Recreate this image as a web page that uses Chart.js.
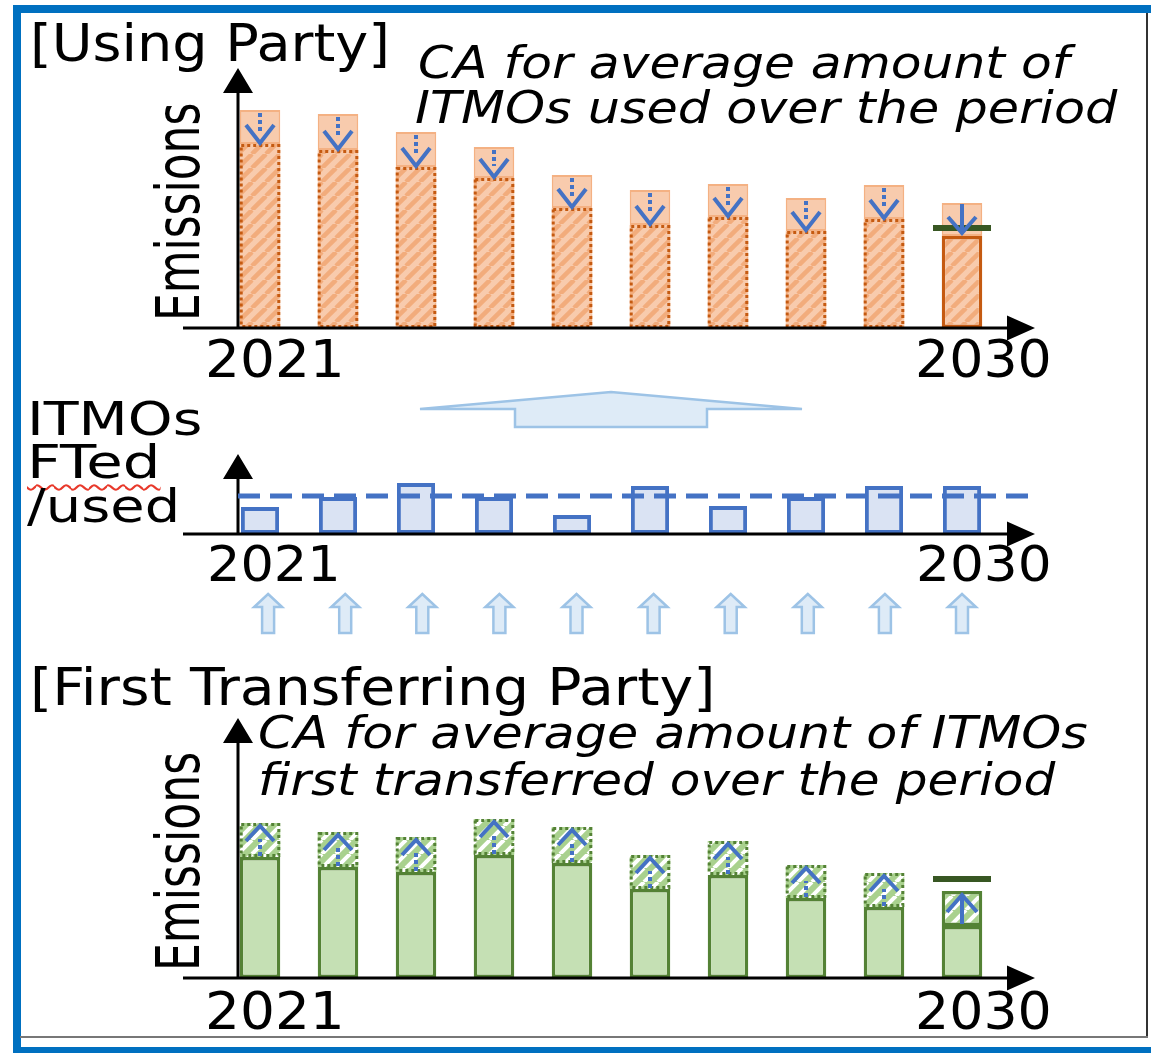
<!DOCTYPE html>
<html>
<head>
<meta charset="utf-8">
<script src="https://cdn.jsdelivr.net/npm/chart.js@4.4.0/dist/chart.umd.min.js"></script>
<style>
  body { margin: 0; background: #fff; }
  #page { position: relative; width: 1151px; height: 1053px; overflow: hidden; background: #fff; }
  canvas { position: absolute; left: 0; }
  .box { position: absolute; }
  .t { position: absolute; white-space: nowrap; line-height: 1; color: #000;
       font-family: 'DejaVu Sans', Verdana, sans-serif; transform-origin: left top; }
  .it { font-style: italic; }
  .squiggle { text-decoration: underline wavy #e8392b; text-decoration-thickness: 2px;
              text-underline-offset: 6px; }
</style>
</head>
<body>
<div id="page">
  <!-- frame -->
  <div class="box" style="left:13px;top:5px;width:1138px;height:8px;background:#0070c0"></div>
  <div class="box" style="left:13px;top:5px;width:8px;height:1048px;background:#0070c0"></div>
  <div class="box" style="left:13px;top:1047px;width:1138px;height:6px;background:#0070c0"></div>
  <div class="box" style="left:1146px;top:13px;width:2px;height:1025px;background:#333"></div>
  <div class="box" style="left:20px;top:1036px;width:1128px;height:2px;background:#777"></div>

  <canvas id="using" width="1151" height="345" style="top:0px"></canvas>
  <canvas id="itmo" width="1151" height="260" style="top:380px"></canvas>
  <canvas id="first" width="1151" height="300" style="top:700px"></canvas>

  <div class="t" style="left:30px;top:17px;font-size:52px" data-w="360">[Using Party]</div>
  <div class="t it" style="left:418px;top:41px;font-size:44px" data-w="652">CA for average amount of</div>
  <div class="t it" style="left:415px;top:86px;font-size:44px" data-w="703">ITMOs used over the period</div>
  <div class="t rot" style="left:148px;top:321px;font-size:60px" data-w="218">Emissions</div>
  <div class="t" style="left:205px;top:334px;font-size:51px" data-w="140">2021</div>
  <div class="t" style="left:915px;top:334px;font-size:51px" data-w="137">2030</div>

  <div class="t" style="left:27px;top:396px;font-size:46px" data-w="176">ITMOs</div>
  <div class="t squiggle" style="left:27px;top:439px;font-size:46px" data-w="133">FTed</div>
  <div class="t" style="left:27px;top:483px;font-size:46px" data-w="153">/used</div>
  <div class="t" style="left:207px;top:540px;font-size:49px" data-w="134">2021</div>
  <div class="t" style="left:916px;top:540px;font-size:49px" data-w="136">2030</div>

  <div class="t" style="left:30px;top:661px;font-size:52px" data-w="685">[First Transferring Party]</div>
  <div class="t it" style="left:258px;top:711px;font-size:44px" data-w="830">CA for average amount of ITMOs</div>
  <div class="t it" style="left:258px;top:758px;font-size:44px" data-w="797">first transferred over the period</div>
  <div class="t rot" style="left:148px;top:971px;font-size:60px" data-w="219">Emissions</div>
  <div class="t" style="left:205px;top:986px;font-size:51px" data-w="140">2021</div>
  <div class="t" style="left:915px;top:986px;font-size:51px" data-w="137">2030</div>
</div>

<script>
'use strict';

const years = ['2021', '2022', '2023', '2024', '2025', '2026', '2027', '2028', '2029', '2030'];

// Using Party: emissions after CA, plus the ITMOs used on top (original emissions)
const usingAfterCA = [184, 178, 161, 150, 120, 103, 111, 97, 109, 92];
const usingItmos = [34, 36, 35, 31, 33, 35, 33, 33, 34, 33];
const usingAverage = 100;

// ITMOs first transferred / used each year
const itmoAmounts = [27, 37, 51, 37, 19, 48, 28, 37, 48, 48];

// First Transferring Party: emissions, plus CA added on top
const ftEmissions = [121, 111, 106, 123, 115, 89, 103, 80, 71, 52];
const ftItmos = [34, 35, 35, 36, 36, 34, 34, 33, 34, 35];
const ftAverage = 99;

const BLUE = '#4472c4';
const LAST = years.length - 1;

function stripeTile(base, stripe, w) {
  const s = 14;
  const c = document.createElement('canvas');
  c.width = c.height = s;
  const g = c.getContext('2d');
  g.fillStyle = base;
  g.fillRect(0, 0, s, s);
  g.strokeStyle = stripe;
  g.lineWidth = w;
  for (const k of [-s, 0, s]) {
    g.beginPath();
    g.moveTo(k, s);
    g.lineTo(k + s, 0);
    g.stroke();
  }
  return c;
}
const orangeTile = stripeTile('#f8cbad', '#f2ac7c', 4.5);
const greenTile = stripeTile('#a9d18e', '#ffffff', 4);

function bar(meta, i) {
  return meta.data[i].getProps(['x', 'y', 'base', 'width'], true);
}

function dottedRect(ctx, b, color) {
  const l = b.x - b.width / 2 + 1.5, r = b.x + b.width / 2 - 1.5;
  const t = Math.min(b.y, b.base) + 1.5, bt = Math.max(b.y, b.base) - 1.5;
  ctx.save();
  ctx.setLineDash([3, 3]);
  ctx.lineWidth = 3;
  ctx.strokeStyle = color;
  ctx.strokeRect(l, t, r - l, bt - t);
  ctx.restore();
}

function stem(ctx, x, y1, y2, dotted) {
  ctx.save();
  ctx.strokeStyle = BLUE;
  ctx.lineWidth = 4;
  if (dotted) ctx.setLineDash([4, 3]);
  ctx.beginPath();
  ctx.moveTo(x, y1);
  ctx.lineTo(x, y2);
  ctx.stroke();
  ctx.restore();
}

// dir = 1 points down, -1 points up
function chevron(ctx, x, tipY, dir, half, h) {
  ctx.save();
  ctx.strokeStyle = BLUE;
  ctx.lineWidth = 4;
  ctx.beginPath();
  ctx.moveTo(x - half, tipY - dir * h);
  ctx.lineTo(x, tipY);
  ctx.lineTo(x + half, tipY - dir * h);
  ctx.stroke();
  ctx.restore();
}

function avgLine(ctx, chart, value, x) {
  const y = chart.scales.y.getPixelForValue(value);
  ctx.save();
  ctx.strokeStyle = '#385723';
  ctx.lineWidth = 6;
  ctx.beginPath();
  ctx.moveTo(x - 29, y);
  ctx.lineTo(x + 29, y);
  ctx.stroke();
  ctx.restore();
}

function arrowAxes(chart) {
  const ctx = chart.ctx;
  const y0 = chart.scales.y.getPixelForValue(0);
  const top = chart.chartArea.top;
  const x0 = chart.scales.x.getPixelForValue(0) - 22;
  const xStart = x0 - 55;
  const xEnd = chart.chartArea.right + 34;
  ctx.save();
  ctx.strokeStyle = '#000';
  ctx.fillStyle = '#000';
  ctx.lineWidth = 3;
  ctx.beginPath();
  ctx.moveTo(xStart, y0);
  ctx.lineTo(xEnd - 20, y0);
  ctx.moveTo(x0, y0 + 1.5);
  ctx.lineTo(x0, top + 20);
  ctx.stroke();
  ctx.beginPath();
  ctx.moveTo(xEnd, y0);
  ctx.lineTo(xEnd - 28, y0 - 12.5);
  ctx.lineTo(xEnd - 28, y0 + 12.5);
  ctx.closePath();
  ctx.moveTo(x0, top);
  ctx.lineTo(x0 - 15, top + 25);
  ctx.lineTo(x0 + 15, top + 25);
  ctx.closePath();
  ctx.fill();
  ctx.restore();
  return { x0, xEnd, y0 };
}

function outlineArrow(ctx, pts) {
  ctx.save();
  ctx.fillStyle = '#deebf7';
  ctx.strokeStyle = '#9dc3e6';
  ctx.lineWidth = 2.5;
  ctx.lineJoin = 'miter';
  ctx.beginPath();
  pts.forEach((p, k) => (k ? ctx.lineTo(p[0], p[1]) : ctx.moveTo(p[0], p[1])));
  ctx.closePath();
  ctx.fill();
  ctx.stroke();
  ctx.restore();
}

function drawUsing(chart) {
  const ctx = chart.ctx;
  const inner = chart.getDatasetMeta(0), used = chart.getDatasetMeta(1);
  for (let i = 0; i < years.length; i++) {
    const a = bar(inner, i), u = bar(used, i);
    if (i < LAST) {
      dottedRect(ctx, a, '#c55a11');
      stem(ctx, u.x, u.y + 3, u.base - 12, true);
      chevron(ctx, u.x, u.base - 1, 1, 14, 18);
    } else {
      avgLine(ctx, chart, usingAverage, u.x);
      stem(ctx, u.x, u.y + 1, u.base - 4, false);
      chevron(ctx, u.x, u.base - 3, 1, 14, 16);
    }
  }
  arrowAxes(chart);
}

function drawItmo(chart) {
  const ctx = chart.ctx;
  const ax = arrowAxes(chart);
  const mean = itmoAmounts.reduce((s, v) => s + v, 0) / itmoAmounts.length;
  const y = chart.scales.y.getPixelForValue(mean);
  ctx.save();
  ctx.strokeStyle = BLUE;
  ctx.lineWidth = 5;
  ctx.setLineDash([22, 10]);
  ctx.beginPath();
  ctx.moveTo(ax.x0, y);
  ctx.lineTo(ax.xEnd, y);
  ctx.stroke();
  ctx.restore();

  // big arrow from the ITMOs row up to the Using Party
  const cx = (chart.chartArea.left + chart.chartArea.right) / 2;
  const b = ax.y0;
  outlineArrow(ctx, [
    [cx - 191, b - 125], [cx, b - 142], [cx + 191, b - 125],
    [cx + 96, b - 125], [cx + 96, b - 107], [cx - 96, b - 107], [cx - 96, b - 125]
  ]);

  // small arrows from the First Transferring Party
  const meta = chart.getDatasetMeta(0);
  meta.data.forEach((el, i) => {
    const x = el.x + (LAST - i) * 0.9;
    outlineArrow(ctx, [
      [x, b + 60], [x + 14, b + 73], [x + 6, b + 73], [x + 6, b + 99],
      [x - 6, b + 99], [x - 6, b + 73], [x - 14, b + 73]
    ]);
  });
}

function drawFirst(chart) {
  const ctx = chart.ctx;
  const added = chart.getDatasetMeta(1);
  for (let i = 0; i < years.length; i++) {
    const u = bar(added, i);
    if (i < LAST) {
      dottedRect(ctx, u, '#548235');
      stem(ctx, u.x, u.base - 1, u.y + 16, true);
      chevron(ctx, u.x, u.y + 3, -1, 14, 15);
    } else {
      avgLine(ctx, chart, ftAverage, u.x);
      stem(ctx, u.x, u.base - 2, u.y + 5, false);
      chevron(ctx, u.x, u.y + 4, -1, 15, 17);
    }
  }
  arrowAxes(chart);
}

function makeChart(id, datasets, pad, ymax, draw) {
  return new Chart(document.getElementById(id), {
    type: 'bar',
    data: { labels: years, datasets: datasets },
    options: {
      responsive: false,
      animation: false,
      layout: { padding: pad },
      plugins: { legend: { display: false }, tooltip: { enabled: false } },
      scales: {
        x: { display: false, stacked: true },
        y: { display: false, stacked: true, min: 0, max: ymax }
      }
    },
    plugins: [{ id: id + 'Deco', afterDatasetsDraw: draw }]
  });
}

makeChart('using', [
  {
    data: usingAfterCA,
    backgroundColor: c => c.chart.ctx.createPattern(orangeTile, 'repeat'),
    borderColor: '#c55a11',
    borderWidth: usingAfterCA.map((v, i) => (i === LAST ? 3.5 : 0)),
    borderSkipped: false,
    barPercentage: 0.52,
    categoryPercentage: 1
  },
  {
    data: usingItmos,
    backgroundColor: '#f8cbad',
    borderColor: '#f4b183',
    borderWidth: 2,
    borderSkipped: false,
    barPercentage: 0.52,
    categoryPercentage: 1
  }
], { left: 221, right: 150, top: 68, bottom: 17 }, 260, drawUsing);

makeChart('itmo', [
  {
    data: itmoAmounts,
    backgroundColor: '#dae3f3',
    borderColor: BLUE,
    borderWidth: 4,
    borderSkipped: false,
    barPercentage: 0.49,
    categoryPercentage: 1
  }
], { left: 221, right: 150, top: 74, bottom: 106 }, 80, drawItmo);

makeChart('first', [
  {
    data: ftEmissions,
    backgroundColor: '#c5e0b4',
    borderColor: '#548235',
    borderWidth: 3.5,
    borderSkipped: false,
    barPercentage: 0.52,
    categoryPercentage: 1
  },
  {
    data: ftItmos,
    backgroundColor: c => c.chart.ctx.createPattern(greenTile, 'repeat'),
    borderColor: '#548235',
    borderWidth: ftItmos.map((v, i) => (i === LAST ? 3.5 : 0)),
    borderSkipped: false,
    barPercentage: 0.52,
    categoryPercentage: 1
  }
], { left: 221, right: 150, top: 18, bottom: 22 }, 260, drawFirst);

// squeeze text to the widths in the picture
document.querySelectorAll('[data-w]').forEach(el => {
  const s = Number(el.dataset.w) / el.offsetWidth;
  const rot = el.classList.contains('rot') ? 'rotate(-90deg) ' : '';
  el.style.transform = rot + 'scaleX(' + s.toFixed(3) + ')';
});
</script>
</body>
</html>
